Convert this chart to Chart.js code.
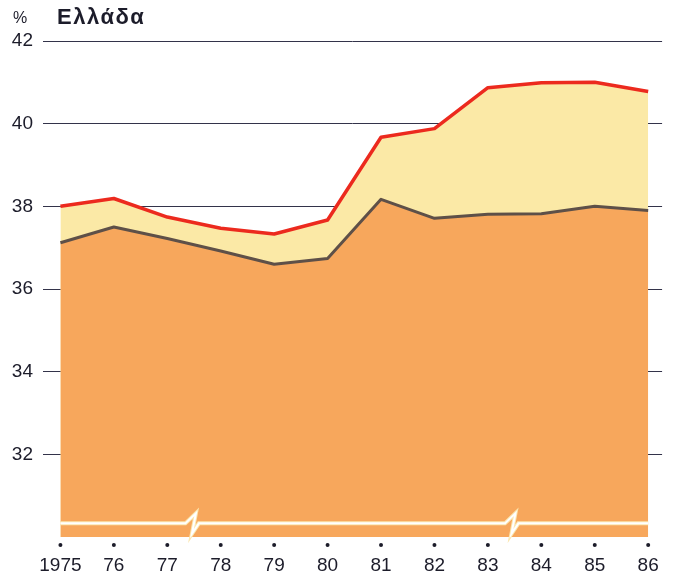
<!DOCTYPE html>
<html lang="el">
<head>
<meta charset="UTF-8">
<title>Ελλάδα</title>
<script src="https://cdn.jsdelivr.net/npm/chart.js"></script>
<style>
  body { margin: 0; background: #fff; }
  #wrap { position: relative; width: 676px; height: 578px; font-family: "Liberation Sans", Arial, sans-serif; color: #1c1c2a; }
  #viz { position: absolute; left: 0; top: 0; }
  #unit { position: absolute; left: 13px; top: 10px; font-size: 16px; line-height: 1; }
  #title { position: absolute; left: 57px; top: 6px; font-size: 22px; font-weight: bold; letter-spacing: 1.5px; line-height: 1; }
</style>
</head>
<body>
<div id="wrap">
  <canvas id="viz" width="676" height="578"></canvas>
  <div id="unit">%</div>
  <div id="title">Ελλάδα</div>
</div>
<script>
  const years = [1975, 1976, 1977, 1978, 1979, 1980, 1981, 1982, 1983, 1984, 1985, 1986]
  const yearLabels = ['1975', '76', '77', '78', '79', '80', '81', '82', '83', '84', '85', '86']
  const upperSeries = [38.0, 38.19, 37.74, 37.47, 37.33, 37.67, 39.67, 39.88, 40.87, 40.99, 41.0, 40.78]
  const lowerSeries = [37.12, 37.5, 37.22, 36.92, 36.6, 36.74, 38.17, 37.71, 37.81, 37.82, 38.0, 37.9]
  const yTicks = [32, 34, 36, 38, 40, 42]
  const breakAt = [1977.47, 1983.45]

  const ink = '#1c1c2a'

  // white axis-break band and the dots under each year
  const decor = {
    id: 'decor',
    afterDatasetsDraw(chart) {
      const { ctx, scales: { x, y } } = chart
      const yy = y.getPixelForValue(30.33)
      const path = () => {
        ctx.beginPath()
        ctx.moveTo(x.getPixelForValue(years[0]), yy)
        breakAt.forEach(b => {
          const bx = x.getPixelForValue(b)
          ctx.lineTo(bx - 7, yy)
          ctx.lineTo(bx + 3.5, yy - 10)
          ctx.lineTo(bx - 0.5, yy + 10.5)
          ctx.lineTo(bx + 6.5, yy)
        })
        ctx.lineTo(x.getPixelForValue(years[years.length - 1]), yy)
      }
      ctx.save()
      ctx.lineJoin = 'miter'
      path()
      ctx.strokeStyle = '#fbe7b0'
      ctx.lineWidth = 4
      ctx.stroke()
      path()
      ctx.strokeStyle = '#ffffff'
      ctx.lineWidth = 2
      ctx.stroke()
      ctx.restore()
    },
    afterDraw(chart) {
      const { ctx, chartArea, scales: { x } } = chart
      ctx.save()
      ctx.fillStyle = ink
      years.forEach(v => {
        ctx.beginPath()
        ctx.arc(x.getPixelForValue(v), chartArea.bottom + 8, 2, 0, Math.PI * 2)
        ctx.fill()
      })
      ctx.restore()
    }
  }

  new Chart(document.getElementById('viz'), {
    type: 'line',
    data: {
      datasets: [{
        label: 'lower',
        data: years.map((v, i) => ({ x: v, y: lowerSeries[i] })),
        borderColor: '#5e5048',
        borderWidth: 3,
        backgroundColor: '#f7a75c',
        fill: 'start',
        pointRadius: 0,
        tension: 0,
        borderJoinStyle: 'round'
      }, {
        label: 'upper',
        data: years.map((v, i) => ({ x: v, y: upperSeries[i] })),
        borderColor: '#ec2a1e',
        borderWidth: 3.5,
        backgroundColor: '#fbe9a6',
        fill: 'start',
        pointRadius: 0,
        tension: 0,
        borderJoinStyle: 'round'
      }]
    },
    options: {
      responsive: false,
      animation: false,
      devicePixelRatio: 1,
      layout: { padding: { top: 41, right: 11, left: 0, bottom: 0 } },
      plugins: {
        legend: { display: false },
        tooltip: { enabled: false }
      },
      scales: {
        x: {
          type: 'linear',
          min: 1974.674,
          max: 1986.26,
          afterBuildTicks: s => { s.ticks = years.map(v => ({ value: v })) },
          afterFit: s => { s.height = 41 },
          grid: { display: false, drawTicks: false },
          border: { display: false },
          ticks: {
            autoSkip: false,
            maxRotation: 0,
            padding: 17,
            color: ink,
            font: { family: '"Liberation Sans", Arial, sans-serif', size: 19 },
            callback: v => yearLabels[years.indexOf(v)]
          }
        },
        y: {
          min: 30,
          max: 42,
          z: 1,
          afterBuildTicks: s => { s.ticks = yTicks.map(v => ({ value: v })) },
          afterFit: s => { s.width = 43 },
          grid: { color: '#33334a', lineWidth: 1, drawTicks: false },
          border: { display: false },
          ticks: {
            padding: 10,
            color: ink,
            font: { family: '"Liberation Sans", Arial, sans-serif', size: 19 }
          }
        }
      }
    },
    plugins: [decor]
  })
</script>
</body>
</html>
